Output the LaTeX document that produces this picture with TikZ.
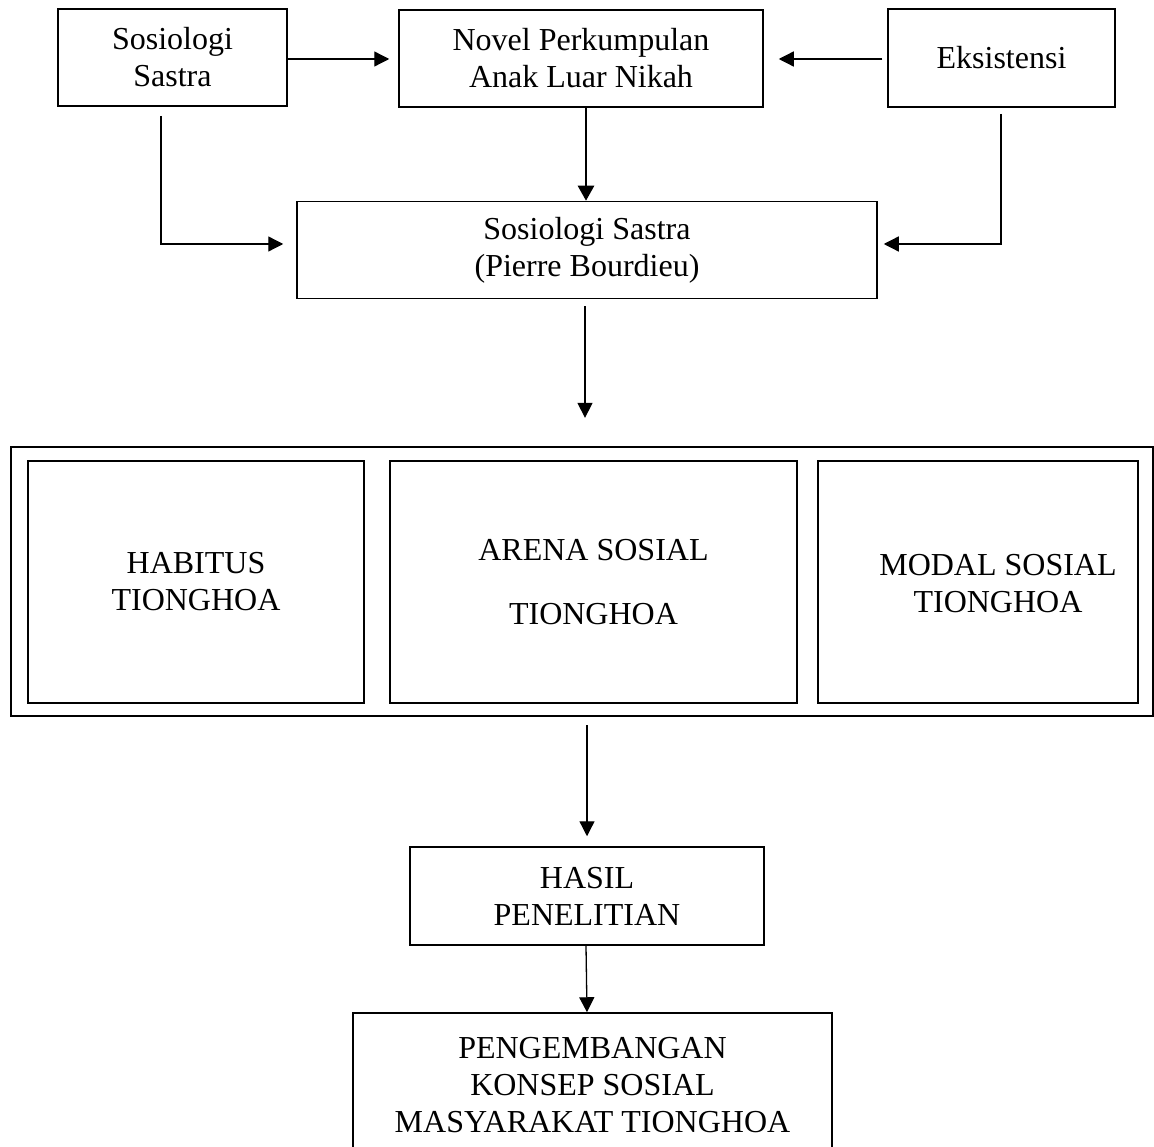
\documentclass[tikz,border=0pt]{standalone}
\usepackage{fontspec}
\setmainfont{Liberation Serif}
\usetikzlibrary{arrows.meta}
\tikzset{
  box/.style={draw, line width=1.5pt, inner sep=0pt, align=center,
    font=\fontsize{32}{37}\selectfont},
  lbl/.style={inner sep=0pt, align=center, font=\fontsize{32}{37}\selectfont},
  arr/.style={line width=1.3pt, -{Triangle[length=15pt,width=15pt]}},
  thickarr/.style={line width=2.6pt, -{Triangle[length=15pt,width=16pt]}},
}
\begin{document}
\begin{tikzpicture}[x=1pt,y=-1pt]
\useasboundingbox (0,0) rectangle (1154,1147);
\clip (0,0) rectangle (1154,1147);
% top row
\node[box, minimum width=229pt, minimum height=97pt] (A) at (172.5,57.5) {Sosiologi\\Sastra};
\node[box, minimum width=364pt, minimum height=97pt] (B) at (581,58.5) {Novel Perkumpulan\\Anak Luar Nikah};
\node[box, minimum width=227pt, minimum height=98pt] (Ek) at (1001.5,58) {Eksistensi};
% second row
\node[box, minimum width=580pt, minimum height=97pt] (C) at (587,250) {Sosiologi Sastra\\(Pierre Bourdieu)};
% outer container
\node[box, line width=2.3pt, minimum width=1142pt, minimum height=269pt] (O) at (582,581.5) {};
\node[box, minimum width=336pt, minimum height=242pt] (H) at (196,582) {HABITUS\\TIONGHOA};
\node[box, line width=2.3pt, minimum width=407pt, minimum height=242pt] (Ar) at (593.5,582) {ARENA SOSIAL\\[27pt]TIONGHOA};
\node[box, minimum width=320pt, minimum height=242pt] (M) at (978,582) {};
\node[lbl] (Mt) at (998,584) {MODAL SOSIAL\\TIONGHOA};
% lower
\node[box, minimum width=354pt, minimum height=98pt] (D) at (587,896) {HASIL\\PENELITIAN};
\node[box, minimum width=479pt, minimum height=144pt] (E) at (592.5,1085) {PENGEMBANGAN\\KONSEP SOSIAL\\MASYARAKAT TIONGHOA};
% connectors
\draw[arr, shorten >=9pt] (A.east |- 0,59) -- (B.west |- 0,59);
\draw[arr, shorten <=5pt, shorten >=15pt] (Ek.west |- 0,59) -- (B.east |- 0,59);
\draw[thickarr] (B.south -| 586,0) -- (C.north -| 586,0);
\coordinate (aL) at (161,116);
\coordinate (eR) at (1001,114);
\draw[arr, shorten >=13pt] (aL) |- (C.west |- 0,244);
\draw[arr, shorten >=6pt] (eR) |- (C.east |- 0,244);
\draw[arr, shorten <=7pt, shorten >=28pt] (C.south -| 585,0) -- (O.north -| 585,0);
\draw[arr, shorten <=8pt, shorten >=10pt] (O.south -| 587,0) -- (D.north -| 587,0);
\draw[arr] (D.south -| 586,0) -- (E.north -| 587,0);
\end{tikzpicture}
\end{document}
